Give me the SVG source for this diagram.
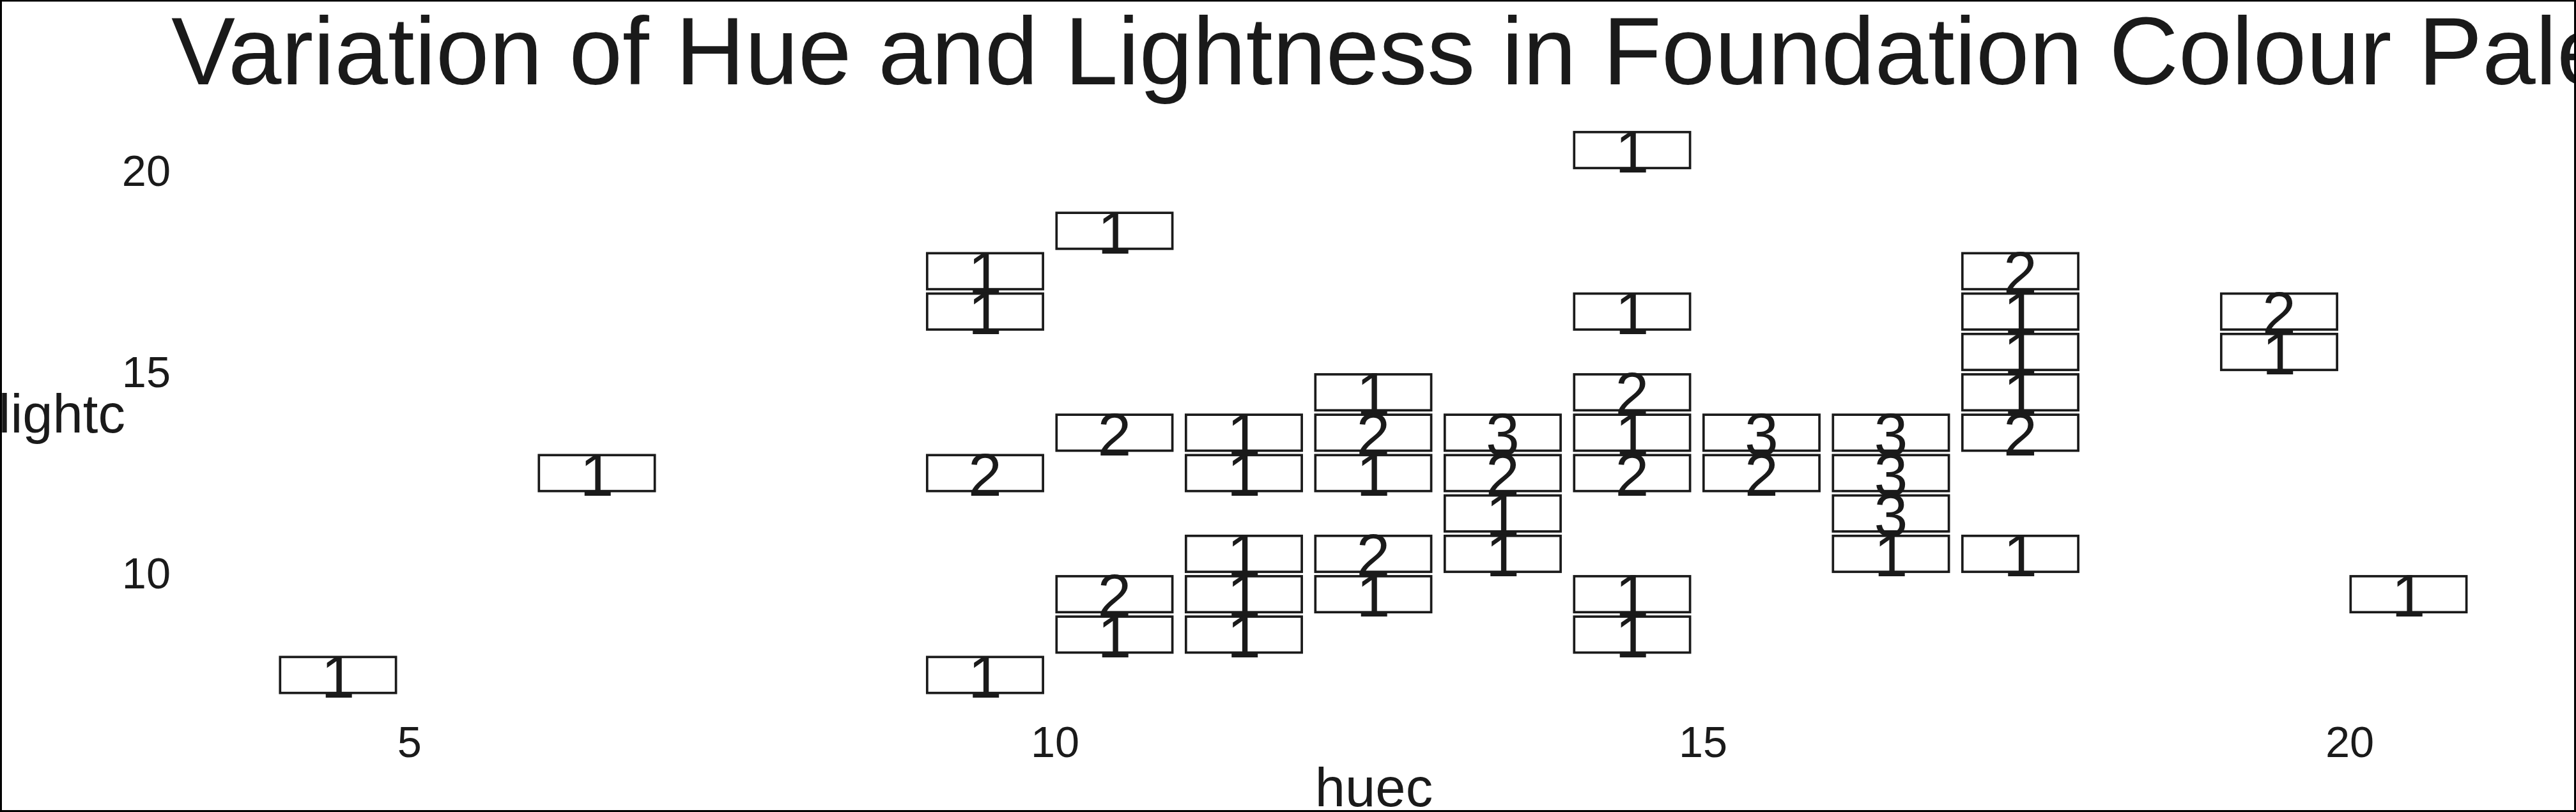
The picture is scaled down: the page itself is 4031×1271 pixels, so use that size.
<svg xmlns="http://www.w3.org/2000/svg" width="4031" height="1271" viewBox="0 0 4031 1271">
<style>
text{font-family:"Liberation Sans",Arial,sans-serif;fill:#1a1a1a}
.title{font-size:150px}
.axt{font-size:85px}
.tick{font-size:68.5px}
.ty{text-anchor:end}
.tx{text-anchor:middle}
.tile{fill:none;stroke:#1a1a1a;stroke-width:3.7}
.lbl{font-size:95px;text-anchor:middle}
</style>
<defs>
<rect id="tile" class="tile" x="-90.65" y="-28.15" width="181.3" height="56.3"/>
</defs>
<rect x="0" y="0" width="4031" height="1271" fill="#ffffff"/>
<text class="title" x="268" y="132">Variation of Hue and Lightness in Foundation Colour Pale</text>
<g id="y-axis">
<text class="tick ty" x="267" y="290.7">20</text>
<text class="tick ty" x="267" y="605.7">15</text>
<text class="tick ty" x="267" y="921.3">10</text>
<text class="axt" x="-2.5" y="677">lightc</text>
</g>
<g id="x-axis">
<text class="tick tx" x="640.7" y="1185.3">5</text>
<text class="tick tx" x="1651" y="1185.3">10</text>
<text class="tick tx" x="2665" y="1185.3">15</text>
<text class="tick tx" x="3677" y="1185.3">20</text>
<text class="axt tx" x="2150" y="1262">huec</text>
</g>
<g id="tiles">
<g id="t-4.5-7.5" transform="translate(528.95,1056.5)"><use href="#tile"/><text class="lbl" y="35.2">1</text></g>
<g id="t-6.5-12.5" transform="translate(933.95,740.5)"><use href="#tile"/><text class="lbl" y="35.2">1</text></g>
<g id="t-9.5-17.5" transform="translate(1541.45,424.5)"><use href="#tile"/><text class="lbl" y="35.2">1</text></g>
<g id="t-9.5-16.5" transform="translate(1541.45,487.7)"><use href="#tile"/><text class="lbl" y="35.2">1</text></g>
<g id="t-9.5-12.5" transform="translate(1541.45,740.5)"><use href="#tile"/><text class="lbl" y="35.2">2</text></g>
<g id="t-9.5-7.5" transform="translate(1541.45,1056.5)"><use href="#tile"/><text class="lbl" y="35.2">1</text></g>
<g id="t-10.5-18.5" transform="translate(1743.95,361.3)"><use href="#tile"/><text class="lbl" y="35.2">1</text></g>
<g id="t-10.5-13.5" transform="translate(1743.95,677.3)"><use href="#tile"/><text class="lbl" y="35.2">2</text></g>
<g id="t-10.5-9.5" transform="translate(1743.95,930.1)"><use href="#tile"/><text class="lbl" y="35.2">2</text></g>
<g id="t-10.5-8.5" transform="translate(1743.95,993.3)"><use href="#tile"/><text class="lbl" y="35.2">1</text></g>
<g id="t-11.5-13.5" transform="translate(1946.45,677.3)"><use href="#tile"/><text class="lbl" y="35.2">1</text></g>
<g id="t-11.5-12.5" transform="translate(1946.45,740.5)"><use href="#tile"/><text class="lbl" y="35.2">1</text></g>
<g id="t-11.5-10.5" transform="translate(1946.45,866.9)"><use href="#tile"/><text class="lbl" y="35.2">1</text></g>
<g id="t-11.5-9.5" transform="translate(1946.45,930.1)"><use href="#tile"/><text class="lbl" y="35.2">1</text></g>
<g id="t-11.5-8.5" transform="translate(1946.45,993.3)"><use href="#tile"/><text class="lbl" y="35.2">1</text></g>
<g id="t-12.5-14.5" transform="translate(2148.95,614.1)"><use href="#tile"/><text class="lbl" y="35.2">1</text></g>
<g id="t-12.5-13.5" transform="translate(2148.95,677.3)"><use href="#tile"/><text class="lbl" y="35.2">2</text></g>
<g id="t-12.5-12.5" transform="translate(2148.95,740.5)"><use href="#tile"/><text class="lbl" y="35.2">1</text></g>
<g id="t-12.5-10.5" transform="translate(2148.95,866.9)"><use href="#tile"/><text class="lbl" y="35.2">2</text></g>
<g id="t-12.5-9.5" transform="translate(2148.95,930.1)"><use href="#tile"/><text class="lbl" y="35.2">1</text></g>
<g id="t-13.5-13.5" transform="translate(2351.45,677.3)"><use href="#tile"/><text class="lbl" y="35.2">3</text></g>
<g id="t-13.5-12.5" transform="translate(2351.45,740.5)"><use href="#tile"/><text class="lbl" y="35.2">2</text></g>
<g id="t-13.5-11.5" transform="translate(2351.45,803.7)"><use href="#tile"/><text class="lbl" y="35.2">1</text></g>
<g id="t-13.5-10.5" transform="translate(2351.45,866.9)"><use href="#tile"/><text class="lbl" y="35.2">1</text></g>
<g id="t-14.5-20.5" transform="translate(2553.95,234.9)"><use href="#tile"/><text class="lbl" y="35.2">1</text></g>
<g id="t-14.5-16.5" transform="translate(2553.95,487.7)"><use href="#tile"/><text class="lbl" y="35.2">1</text></g>
<g id="t-14.5-14.5" transform="translate(2553.95,614.1)"><use href="#tile"/><text class="lbl" y="35.2">2</text></g>
<g id="t-14.5-13.5" transform="translate(2553.95,677.3)"><use href="#tile"/><text class="lbl" y="35.2">1</text></g>
<g id="t-14.5-12.5" transform="translate(2553.95,740.5)"><use href="#tile"/><text class="lbl" y="35.2">2</text></g>
<g id="t-14.5-9.5" transform="translate(2553.95,930.1)"><use href="#tile"/><text class="lbl" y="35.2">1</text></g>
<g id="t-14.5-8.5" transform="translate(2553.95,993.3)"><use href="#tile"/><text class="lbl" y="35.2">1</text></g>
<g id="t-15.5-13.5" transform="translate(2756.45,677.3)"><use href="#tile"/><text class="lbl" y="35.2">3</text></g>
<g id="t-15.5-12.5" transform="translate(2756.45,740.5)"><use href="#tile"/><text class="lbl" y="35.2">2</text></g>
<g id="t-16.5-13.5" transform="translate(2958.95,677.3)"><use href="#tile"/><text class="lbl" y="35.2">3</text></g>
<g id="t-16.5-12.5" transform="translate(2958.95,740.5)"><use href="#tile"/><text class="lbl" y="35.2">3</text></g>
<g id="t-16.5-11.5" transform="translate(2958.95,803.7)"><use href="#tile"/><text class="lbl" y="35.2">3</text></g>
<g id="t-16.5-10.5" transform="translate(2958.95,866.9)"><use href="#tile"/><text class="lbl" y="35.2">1</text></g>
<g id="t-17.5-17.5" transform="translate(3161.45,424.5)"><use href="#tile"/><text class="lbl" y="35.2">2</text></g>
<g id="t-17.5-16.5" transform="translate(3161.45,487.7)"><use href="#tile"/><text class="lbl" y="35.2">1</text></g>
<g id="t-17.5-15.5" transform="translate(3161.45,550.9)"><use href="#tile"/><text class="lbl" y="35.2">1</text></g>
<g id="t-17.5-14.5" transform="translate(3161.45,614.1)"><use href="#tile"/><text class="lbl" y="35.2">1</text></g>
<g id="t-17.5-13.5" transform="translate(3161.45,677.3)"><use href="#tile"/><text class="lbl" y="35.2">2</text></g>
<g id="t-17.5-10.5" transform="translate(3161.45,866.9)"><use href="#tile"/><text class="lbl" y="35.2">1</text></g>
<g id="t-19.5-16.5" transform="translate(3566.45,487.7)"><use href="#tile"/><text class="lbl" y="35.2">2</text></g>
<g id="t-19.5-15.5" transform="translate(3566.45,550.9)"><use href="#tile"/><text class="lbl" y="35.2">1</text></g>
<g id="t-20.5-9.5" transform="translate(3768.95,930.1)"><use href="#tile"/><text class="lbl" y="35.2">1</text></g>
</g>
<rect id="frame" x="1.5" y="1" width="4028" height="1268.5" fill="none" stroke="#000000" stroke-width="3"/>
</svg>
